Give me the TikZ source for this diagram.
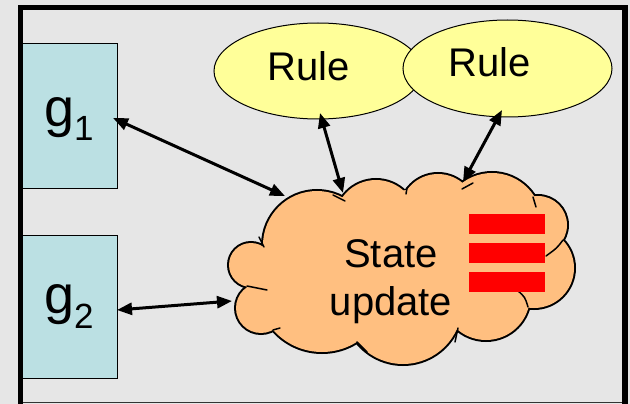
\documentclass[tikz,border=0pt]{standalone}
\usepackage{fontspec}
\setmainfont{Liberation Sans}
\usetikzlibrary{arrows.meta}
\definecolor{bg}{HTML}{E6E6E6}
\definecolor{gfill}{HTML}{BBE0E3}
\definecolor{rulefill}{HTML}{FFFF99}
\definecolor{cloudfill}{HTML}{FFBF80}
\definecolor{barred}{HTML}{FF0000}
\tikzset{
  gbox/.style={draw=black, line width=1pt, fill=gfill, inner sep=0pt},
  big/.style={font=\fontsize{40}{40}\selectfont, inner sep=0pt, anchor=base},
  link/.style={line width=3pt, {Triangle[length=15pt,width=12pt]}-{Triangle[length=15pt,width=12pt]}},
  curl/.style={line width=1.5pt, line cap=round},
  bar/.style={fill=barred, draw=none}
}
\begin{document}
\begin{tikzpicture}[x=1pt,y=-1pt]
\useasboundingbox (0,0) rectangle (630,404);
\fill[bg] (0,0) rectangle (630,404);

% g boxes
\node[gbox, minimum width=95pt, minimum height=144pt] (g1box) at (69.5,116) {};
\node[gbox, minimum width=95pt, minimum height=143pt] (g2box) at (69.5,306.5) {};
\node[inner sep=0pt, anchor=base west, font=\fontsize{54}{54}\selectfont] (g1) at (44,126) {g\raisebox{-15pt}{\fontsize{35}{35}\selectfont 1}};
\node[inner sep=0pt, anchor=base west, font=\fontsize{54}{54}\selectfont] (g2) at (44,313) {g\raisebox{-15pt}{\fontsize{35}{35}\selectfont 2}};

% rule ellipses
\draw[line width=1pt, fill=rulefill] (318,71) ellipse [x radius=104pt, y radius=48pt];
\coordinate (rule1c) at (318,71);
\draw[line width=1pt, fill=rulefill] (507.5,68.5) ellipse [x radius=104.5pt, y radius=48.5pt];
\coordinate (rule2c) at (507.5,68.5);
\node[big] (rule1) at (308.5,81) {Rule};
\node[big] (rule2) at (490,77) {Rule};

% cloud: outline via stroked circles, then refill
\begin{scope}
\foreach \cx/\cy/\r in {317/245/54, 376/221/41, 438/212/38, 492/223/50, 538/225/29, 534/268/40, 486/296/44, 403/305/59, 322/287/65, 261/308/25, 251/265/22}{
  \draw[line width=4pt, fill=cloudfill] (\cx,\cy) circle [radius=\r pt];
}
\foreach \cx/\cy/\r in {317/245/54, 376/221/41, 438/212/38, 492/223/50, 538/225/29, 534/268/40, 486/296/44, 403/305/59, 322/287/65, 261/308/25, 251/265/22}{
  \fill[cloudfill] (\cx,\cy) circle [radius=\r pt];
}
\fill[cloudfill] (343,197) -- (407,190) -- (463,183) -- (534,197) -- (563,240) -- (528,308) -- (457,330) -- (357,342) -- (273,330) -- (250,287) -- (263,246) -- cycle;
\end{scope}
% inner curls of the cloud
\draw[curl] (333,195) -- (345,201);
\draw[curl] (407,188) -- (406,194);
\draw[curl] (462,189) -- (473,183);
\draw[curl] (533,197) -- (536,207);
\draw[curl] (546,256) .. controls (557,248) .. (563,240);
\draw[curl] (517,290) .. controls (525,297) .. (528,307);
\draw[curl] (458,328) -- (455,342);
\draw[curl] (357,342) -- (367,352);
\draw[curl] (273,330) -- (280,328);
\draw[curl] (247,286) -- (267,290);
\draw[curl] (259,237) -- (264,247);

\node[big] (state) at (391,267) {State};
\node[big] (update) at (391,315) {update};

% red bars
\fill[bar] (469,214) rectangle (545,234);
\fill[bar] (469,243) rectangle (545,263);
\fill[bar] (469,272) rectangle (545,292);

% connector ends
\coordinate (a1s) at (113,118);
\coordinate (a1e) at (285,196);
\coordinate (a2s) at (117,310);
\coordinate (a2e) at (232,301);
\coordinate (a3s) at (320,113);
\coordinate (a3e) at (343,193);
\coordinate (a4s) at (502,110);
\coordinate (a4e) at (463,182);
\draw[link] (a1s) -- (a1e);
\draw[link] (a2s) -- (a2e);
\draw[link] (a3s) -- (a3e);
\draw[link] (a4s) -- (a4e);

% frame
\draw[line width=5.5pt, line join=miter] (20.5,404) -- (20.5,7.5) -- (625,7.5) -- (625,404);
\draw[line width=1pt, black!80] (23,402) -- (622,402);
\end{tikzpicture}
\end{document}
